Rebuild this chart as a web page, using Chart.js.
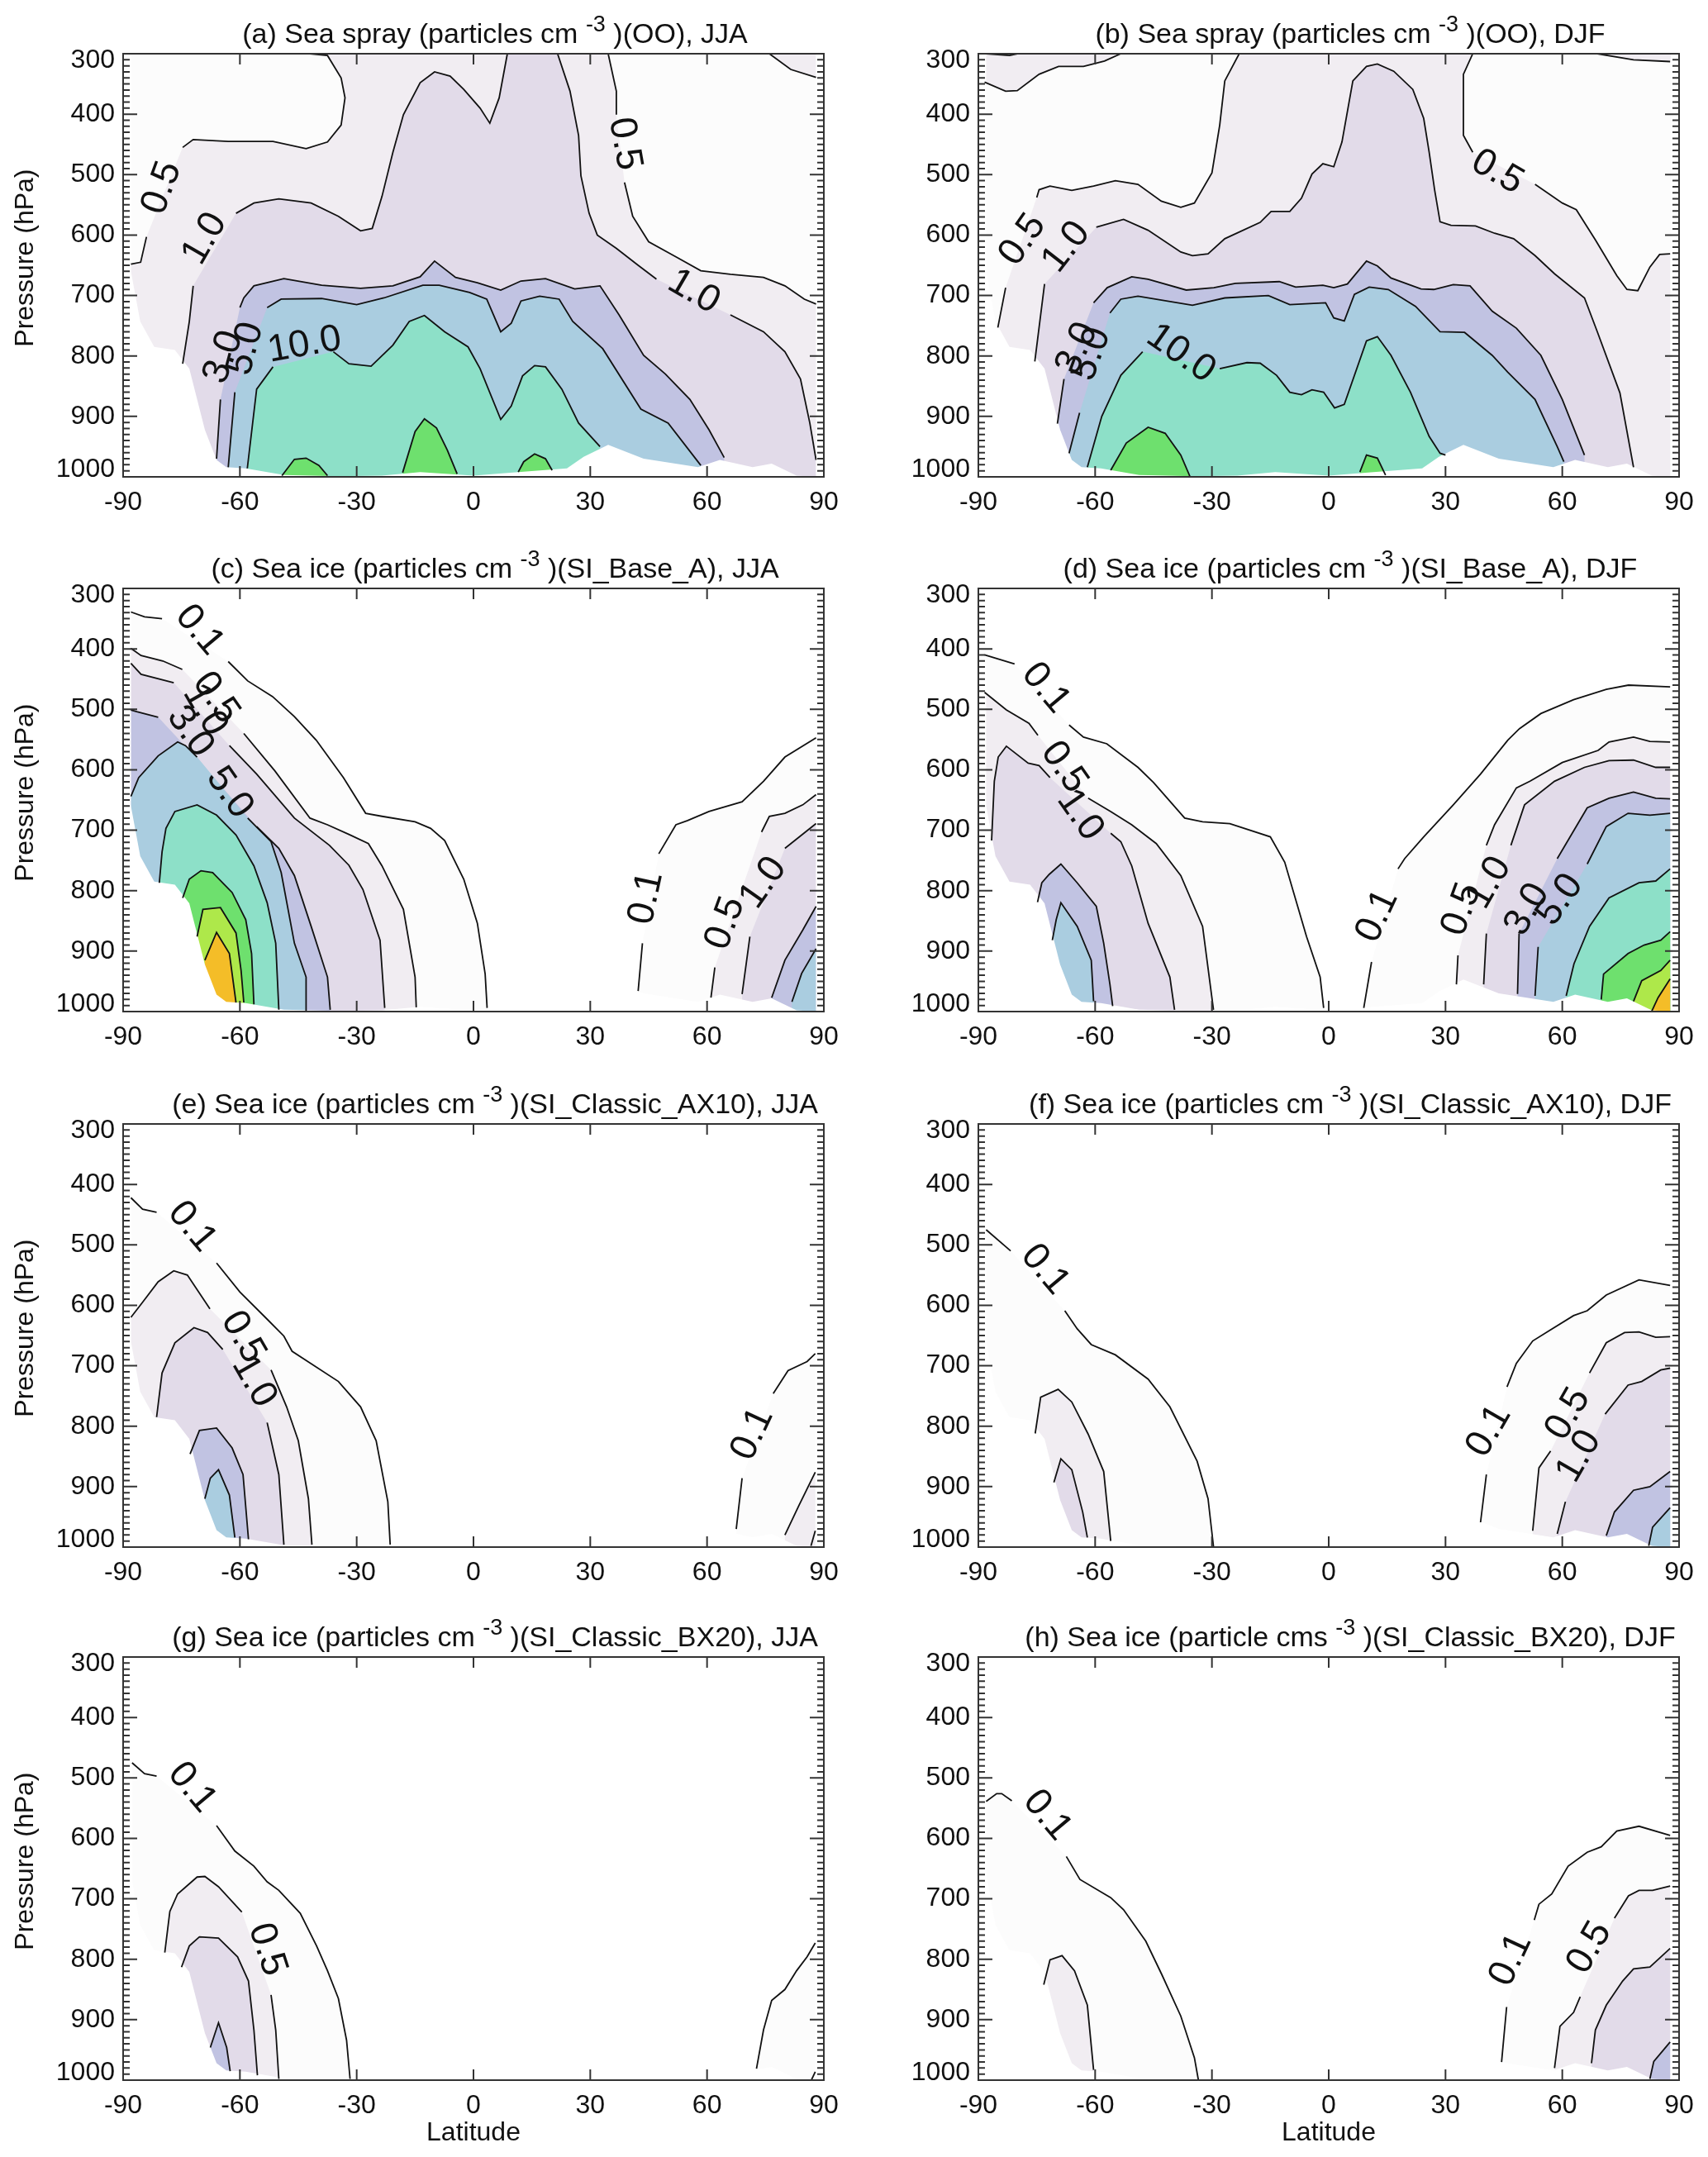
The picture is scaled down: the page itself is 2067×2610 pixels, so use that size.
<!DOCTYPE html>
<html>
<head>
<meta charset="utf-8">
<title>Sea spray and sea ice particles</title>
<script src="https://cdn.jsdelivr.net/npm/chart.js@4/dist/chart.umd.min.js"></script>
<style>
body{margin:0;background:#fff;}
#page{position:relative;width:2067px;height:2610px;overflow:hidden;background:#fff;font-family:"Liberation Sans",Arial,sans-serif;color:#111;}
canvas{position:absolute;}
.title{position:absolute;font-size:34px;white-space:pre;transform:translate(-50%,-50%);line-height:40px;}
.title sup{font-size:27px;line-height:0;position:relative;top:-2px;vertical-align:super;}
</style>
</head>
<body>
<div id="page"></div>
<script>
// ================= AXES =================
const latTicks = [-90,-60,-30,0,30,60,90];
const pressureTicks = [300,400,500,600,700,800,900,1000];
const titleHeads = ["(a) Sea spray (particles cm","(b) Sea spray (particles cm","(c) Sea ice (particles cm","(d) Sea ice (particles cm","(e) Sea ice (particles cm","(f) Sea ice (particles cm","(g) Sea ice (particles cm","(h) Sea ice (particle cms"];
const titleTails = [")(OO), JJA",")(OO), DJF",")(SI_Base_A), JJA",")(SI_Base_A), DJF",")(SI_Classic_AX10), JJA",")(SI_Classic_AX10), DJF",")(SI_Classic_BX20), JJA",")(SI_Classic_BX20), DJF"];

// colours of the bands: 0.1, 0.5, 1, 3, 5, 10, 30 and the two top levels
const bandColors = ["#fcfcfc","#f1edf2","#e2dbe9","#c1c3e2","#aacde0","#8de0c8","#6ee06e","#aee84a","#f4bd28"];

// everything below ground / off the model grid stays white
const terrain = [[-88,660],[-85.6,743],[-82,785],[-76.7,790],[-73,821],[-69,922],[-66,972],[-63.5,984],[-58.5,986],[-48.7,997],[-34.7,999],[-23.5,998],[-13.7,992],[0,998],[11.5,992],[24,986],[28.3,967],[34.6,947],[43.7,970],[57.7,984],[63.3,972],[71.7,984],[76.6,978],[83,998],[88,1000]];
const wholeGrid = [[-88,300],[88,300],[88,1000],[-88,1000]];

// ================= PANEL A =================
const a05L = [[-88,648],[-85.5,645],[-84,603],null,[-74.7,455],[-72,442],[-63,445],[-51.5,445],[-43,457],[-37.5,446],[-34,418],[-33,373],[-34,340],[-37.5,303],[-42,300]];
const a05R = [[34.6,300],[36.7,362],[36.7,401],null,[38.8,513],[40.9,569],[45,611],[52,636],[58.4,659],[66,665],[74.5,670],[80,684],[85,706],[88,714]];
const a05T = [[76,300],[81.5,326],[88,339]];
const a10L = [[-74.7,813],[-73,743],[-72,684],null,[-61,564],[-56.4,547],[-50,540],[-41.7,547],[-34.7,569],[-29,593],[-26,589],[-23.5,536],[-20.7,463],[-18,401],[-13.7,348],[-10,330],[-6,337],[-2.5,359],[1.7,390],[4.2,415],[6.6,373],[8.7,300]];
const a10R = [[21.6,300],[24.8,362],[27,435],[27.6,502],[29.7,564],[31.8,600],[36.7,622],[42.3,650],[47,673],null,[66,732],[74.5,760],[80,793],[84,838],[86.4,911],[88,972]];
const a30 = [[-66,970],[-65,872],null,[-60,720],[-59,704],[-56.4,684],[-48.7,672],[-39,683],[-29,688],[-20.7,684],[-13.7,669],[-10,643],[-4.6,670],[1,679],[7,691],[12.2,676],[18.5,672],[26,689],[32.5,684],[37.4,732],[43.7,799],[49.3,830],[55.6,872],[60.5,922],[64.4,968]];
const a50 = [[-63,984],[-61.3,860],null,[-53,720],[-49.4,706],[-39,705],[-30,715],[-23,704],[-13,683],[-8.8,683],[-1,695],[3.4,706],[7,760],[9.7,746],[12.2,709],[17,701],[22,706],[25.5,743],[33.2,788],[43,888],[50,911],[58.4,981]];
const a100 = [[-58.1,986],[-55.7,855],[-51.5,818],null,[-36,793],[-32,813],[-26.3,817],[-20.7,782],[-16.5,743],[-12.6,733],[-7.4,760],[-1.4,785],[1.7,821],[7,905],[9.7,883],[12.6,833],[15.7,816],[18.5,818],[22.7,855],[27,911],[32.5,950]];
const a300A = [[-49.2,998],[-46,971],[-43,969],[-39.7,981],[-37.5,998]];
const a300B = [[-18.2,993],[-15,925],[-12.6,904],[-9.5,919],[-6.7,956],[-4.2,995]];
const a300C = [[11.5,992],[12.9,975],[15.7,962],[18.5,970],[20.2,989]];
const linesA = [a05L,a05R,a05T,a10L,a10R,a30,a50,a100,a300A,a300B,a300C];
const fillsA = [[0,"open",wholeGrid],[1,"down",a05L,a05R],[1,"open",a05T,[[88,300]]],[2,"down",a10L,a10R],[3,"down",a30],[4,"down",a50],[5,"down",a100],[6,"down",a300A],[6,"down",a300B],[6,"down",a300C]];
const labelsA = [["0.5",-80,522],["1.0",-69,606],["3.0",-64.2,802],["5.0",-58.5,788],["10.0",-43.4,782],["0.5",38.8,449],["1.0",56.6,694]];
const anglesA = [-70,-60,-70,-75,-10,80,30];

// ================= PANEL B =================
const b05S = [[-88,300],[-82,303],[-80,300]];
const b05T = [[-88.4,347],[-83,362],[-80,361],[-74.4,334],[-69.4,321],[-63,321],[-57.6,312],[-53.4,300]];
const b05U = [[69,300],[78.3,310],[87.7,313]];
const b05L = [[-85,753],[-83,687],null,[-75,538],[-74.4,525],[-71.6,519],[-66,526],[-60.4,519],[-54.8,510],[-49,516],[-43,544],[-38,554],[-34.5,547],[-30,497],[-28,418],[-26.7,345],[-23,300]];
const b05R = [[37,300],[34.6,334],[34.6,435],[37,463],null,[53,516],[60,547],[63.6,558],[68.5,608],[74,667],[76.6,690],[79.4,692],[82.5,653],[85,632],[87.7,631]];
const b10 = [[-75.5,809],[-73,681],null,[-59.7,587],[-52.7,574],[-46.4,592],[-38,628],[-35,634],[-31,631],[-26.7,606],[-17.6,579],[-14.8,561],[-10,561],[-7,539],[-4.3,499],[-1.5,482],[1.3,487],[3.4,446],[6.2,345],[9.7,321],[12.5,317],[16.7,329],[21.6,359],[24.4,407],[25.8,463],[27.2,525],[28.6,578],[31.4,584],[37.7,585],[42.6,597],[47.5,606],[53,634],[58,664],[65.7,704],[69,760],[74.8,861],[78.3,984]];
const b30 = [[-69.7,912],[-68,838],null,[-60.4,712],[-56.9,687],[-50.6,669],[-46.4,673],[-36.6,691],[-29.5,687],[-24,680],[-12.7,677],[-8.5,686],[-1.5,683],[1.3,687],[4.8,681],[9.7,643],[12.5,651],[16,671],[23.7,689],[27,690],[32,682],[36.3,684],[42,726],[48.2,754],[54.5,799],[60,872],[65.7,964]];
const b50 = [[-66.7,961],[-64,894],null,[-56.2,729],[-53.4,706],[-49,701],[-35,716],[-26.7,704],[-15.5,700],[-10,715],[-0.8,712],[1.3,737],[4,742],[6.6,698],[10.4,686],[15.3,690],[22.3,718],[28.6,760],[34.9,761],[42,799],[46,827],[53,872],[58.7,950],[60.4,975]];
const b100 = [[-62,984],[-58.3,900],[-53.4,832],[-47.8,793],null,[-28,821],[-21,811],[-17.6,812],[-13.4,832],[-10,860],[-7,864],[-4.3,856],[-1.3,860],[1.5,886],[4,880],[9.7,775],[12.5,768],[16,799],[21,860],[25.8,933],[28.6,961],[30,964]];
const b300A = [[-56,989],[-52,944],[-46.4,918],[-42,928],[-38,964],[-35.6,1000]];
const b300B = [[8,992],[9.7,964],[12.5,969],[14.6,997]];
const linesB = [b05S,b05T,b05U,b05L,b05R,b10,b30,b50,b100,b300A,b300B];
const fillsB = [[0,"open",wholeGrid],[1,"open",b05T,[[-88.4,300]]],[1,"open",b05U,[[88,300]]],[1,"down",b05L,b05R],[2,"down",b10],[3,"down",b30],[4,"down",b50],[5,"down",b100],[6,"down",b300A],[6,"down",b300B]];
const labelsB = [["0.5",-78.6,608],["1.0",-67.4,620],["3.0",-64.6,788],["5.0",-61,797],["10.0",-38,796],["0.5",43.3,496]];
const anglesB = [-55,-52,-65,-70,35,30];

// ================= PANEL C =================
const c01L = [[-88,339],[-84.5,347],[-80,350],null,[-63,421],[-58,453],[-51.6,479],[-46,512],[-40.4,551],[-33.4,613],[-27.7,672],[-23.5,677],[-15,686],[-11,697],[-7.4,717],[-2.5,781],[1,854],[3,938],[3.5,994]];
const c01R = [[42.3,966],[43.4,887],null,[47.6,739],[52,691],[55,684],[60.5,669],[69,653],[74.5,619],[80,579],[88,547]];
const c05L = [[-88,399],[-85.4,411],[-79.8,420],[-74.8,434],null,[-59,540],[-51,602],[-42,680],[-37.5,691],[-32,707],[-27,722],[-23.5,759],[-18,831],[-15,943],[-14.7,993]];
const c05R = [[61,977],[62,927],null,[74,703],[76,677],[80,672],[84.6,658],[88,641]];
const c10L = [[-88,424],[-85.4,442],[-77,456],null,[-62.7,560],[-55.7,607],[-46,680],[-37,725],[-32,758],[-28.4,798],[-24,882],[-22.8,994]];
const c10R = [[69,971],[71,876],null,[80,730],[88,689]];
const c30L = [[-88,501],[-86.5,504],[-81,513],null,[-69,596],null,[-55.7,694],[-50,730],[-46,775],[-41.7,859],[-37.5,943],[-36.8,997]];
const c30R = [[76.6,977],[80,915],[84.6,865],[88,826]];
const c50 = [[-88,644],[-86,613],[-81,577],[-76,554],[-74,560],[-71,579],null,[-58,680],[-52,719],[-49.4,770],[-46,887],[-43,943],[-43,999]];
const c50R = [[81.8,984],[84.3,937],[88,896]];
const c100 = [[-80.7,787],[-80,736],[-79,697],[-76.7,669],[-71,658],[-66,675],[-61,708],[-56.4,759],[-53,820],[-50.8,887],[-50,997]];
const c300 = [[-74.7,812],[-73,781],[-70,767],[-67,770],[-62,803],[-58.5,848],[-57,904],[-56.4,988]];
const c500 = [[-71,876],[-69.5,831],[-65,828],[-61,870],[-59.7,932],[-59,985]];
const c700 = [[-69,915],[-66,869],[-62.7,904],[-61,985]];
const linesC = [c01L,c01R,c05L,c05R,c10L,c10R,c30L,c30R,c50,c50R,c100,c300,c500,c700];
const fillsC = [[0,"down",c01L],[0,"down",c01R],[1,"down",c05L],[1,"down",c05R],[2,"down",c10L],[2,"down",c10R],[3,"down",c30L],[3,"down",c30R],[4,"down",c50],[4,"down",c50R],[5,"down",c100],[6,"down",c300],[7,"down",c500],[8,"down",c700]];
const labelsC = [["0.1",-70.4,369],["0.5",-66.2,481],["1.0",-69,501],["3.0",-72.8,537],["5.0",-62.7,638],["0.1",44.4,812],["0.5",64.7,854],["1.0",74.5,787]];
const anglesC = [50,55,60,55,55,-78,-70,-55];

// ================= PANEL D =================
const d01L = [[-88.4,410],[-80.7,425],null,[-66.7,526],[-63,546],[-57,557],[-49,596],[-45,621],[-37,680],[-32.4,686],[-25.4,689],[-15,711],[-11.3,753],[-5.7,876],[-2.2,943],[-1.3,994]];
const d01R = [[9,994],[11,918],null,[17.8,764],[19.5,747],[24.4,711],[32,658],[39,607],[46,551],[49,532],[54.5,507],[62.9,484],[71.3,467],[77,460],[87.7,463]];
const d05L = [[-88.4,472],[-82.8,501],[-77,523],[-74.7,543],null,[-61.8,647],[-56,669],[-50.6,691],[-44.3,722],[-38,775],[-32.4,859],[-29.6,997]];
const d05R = [[32.8,955],[33.2,907],null,[40.5,725],[42.6,691],[48.2,630],[51.7,619],[60,588],[69.2,568],[72,554],[78.3,546],[82.5,553],[87.7,554]];
const d10L = [[-86.6,717],[-85.9,619],[-84.9,579],[-82.8,561],[-77.2,589],[-74.4,593],[-71.6,613],null,[-56,705],[-53.4,719],[-50.6,759],[-46.4,854],[-40.8,943],[-39.6,997]];
const d10R = [[39.8,955],[40.5,871],null,[46.8,725],[50.3,658],[58,619],[65.7,596],[72,585],[78.3,584],[84,596],[87.7,596]];
const d30L = [[-74.8,819],[-73.7,787],[-71.8,773],[-68.8,756],[-64.6,787],[-59.7,826],[-57.8,887],[-56.2,955],[-55.5,991]];
const d30R = [[48.5,971],[48.9,871],null,[58.7,747],[66.4,663],[72,647],[78.3,637],[84,647],[87.7,648]];
const d50L = [[-71,882],[-70,848],[-68.8,820],[-64.6,859],[-61,915],[-60.4,983]];
const d50R = [[53,974],[53.8,893],null,[66.4,756],[71.3,694],[76.9,672],[82.5,675],[87.7,672]];
const d100 = [[61,974],[63,921],[67,859],[72,812],[79.7,787],[84,784],[87.7,764]];
const d300 = [[70,980],[70.6,938],[76.9,904],[81,890],[85.3,882],[87.7,868]];
const d500 = [[78.3,983],[80.4,949],[85.3,932],[87.7,915]];
const d700 = [[83,999],[84.6,977],[87.7,946]];
const linesD = [d01L,d01R,d05L,d05R,d10L,d10R,d30L,d30R,d50L,d50R,d100,d300,d500,d700];
const fillsD = [[0,"down",d01L],[0,"down",d01R],[1,"down",d05L],[1,"down",d05R],[2,"down",d10L],[2,"down",d10R],[3,"down",d30L],[3,"down",d30R],[4,"down",d50L],[4,"down",d50R],[5,"down",d100],[6,"down",d300],[7,"down",d500],[8,"down",d700]];
const labelsD = [["0.1",-72.7,465],["0.5",-68,596],["1.0",-63.9,675],["0.1",12.5,842],["0.5",34.2,831],["1.0",41.2,787],["3.0",51,831],["5.0",59.4,815]];
const anglesD = [50,55,55,-65,-70,-60,-60,-55];

// ================= PANEL E =================
const e01L = [[-88,422],[-85,441],[-81.4,446],null,[-66,530],[-60,578],[-53,623],[-48.7,651],[-46.6,676],[-34.7,726],[-29,768],[-25,824],[-22,925],[-21.4,996]];
const e01R = [[67.5,970],[69,886],null,[77,746],[80.8,708],[85.7,693],[87.8,680]];
const e05L = [[-88,620],[-85,595],[-81,561],[-77,543],[-73.5,550],[-67.7,606],null,[-52,707],[-48,768],[-45,824],[-42.4,920],[-41.5,996]];
const e05R = [[80,980],[83.6,931],[87.8,876]];
const e10L = [[-81.4,785],[-80,712],[-76.7,662],[-71.8,637],[-68.3,645],[-64.4,673],null,[-53,794],[-50,880],[-48.7,996]];
const e10R = [[86.7,998],[87.8,973]];
const e30 = [[-72.8,846],[-70.4,807],[-66,803],[-62,836],[-59.2,880],[-57.8,987]];
const e50 = [[-69,920],[-67.6,886],[-65.5,872],[-62.7,914],[-61.3,984]];
const linesE = [e01L,e01R,e05L,e05R,e10L,e10R,e30,e50];
const fillsE = [[0,"down",e01L],[0,"down",e01R],[1,"down",e05L],[1,"down",e05R],[2,"down",e10L],[3,"down",e30],[4,"down",e50]];
const labelsE = [["0.1",-72.3,470],["0.5",-59.2,653],["1.0",-56.4,726],["0.1",71.7,813]];
const anglesE = [50,60,60,-65];

// ================= PANEL F =================
const f01L = [[-88,475],[-81.7,510],null,[-67.8,609],[-64.6,639],[-61,665],[-54.8,682],[-46.4,722],[-40.8,768],[-33.8,858],[-31,920],[-29.6,999]];
const f01R = [[39,959],[40.5,880],null,[45.8,735],[48.2,696],[52.4,659],[56.6,642],[62.9,617],[66.4,609],[71.3,583],[79.7,558],[87.7,567]];
const f05L = [[-75.4,812],[-74,752],[-69.5,739],[-66,760],[-61.8,813],[-57.8,875],[-56,990]];
const f05R = [[52.4,973],[54,869],[57,841],null,[67,712],[71.3,662],[76,645],[79.7,644],[84,653],[87.7,652]];
const f10L = [[-70.6,893],[-68.8,854],[-66,872],[-63.2,942],[-62,984]];
const f10R = [[58.7,978],[60.8,925],null,[71,780],[76.9,732],[80.4,726],[85.3,707],[87.7,704]];
const f30 = [[71.3,981],[73.4,942],[78.3,906],[82.5,900],[87.7,875]];
const f50 = [[82.2,998],[83.2,967],[87.7,935]];
const linesF = [f01L,f01R,f05L,f05R,f10L,f10R,f30,f50];
const fillsF = [[0,"down",f01L],[0,"down",f01R],[1,"down",f05L],[1,"down",f05R],[2,"down",f10L],[2,"down",f10R],[3,"down",f30],[4,"down",f50]];
const labelsF = [["0.1",-72.9,541],["0.1",41.2,808],["0.5",61.5,780],["1.0",64.3,850]];
const anglesF = [50,-60,-60,-60];

// ================= PANEL G =================
const g01L = [[-87.7,475],[-84.5,493],[-81.4,497],null,[-66,579],[-61.3,621],[-56.4,646],[-53,672],[-50,686],[-44.5,724],[-40.3,778],[-37.5,819],[-34.7,865],[-32.6,934],[-31.7,998]];
const g01R = [[72.7,981],[74.5,917],[76.6,868],[80,850],[83,819],[85.7,796],[87.8,773]];
const g05L = [[-79.3,789],[-78,721],[-76,692],[-71,664],[-69,663],[-65.5,680],[-59.5,722],null,[-52,859],[-50.8,917],[-50,998]];
const g05R = [[86.8,1000],[87.8,986]];
const g10 = [[-75,813],[-73,778],[-70.4,763],[-65.5,765],[-60.6,796],[-57.8,836],[-56.4,917],[-55.5,992]];
const g30 = [[-67.6,946],[-65.5,905],[-63.4,946],[-62.5,985]];
const linesG = [g01L,g01R,g05L,g05R,g10,g30];
const fillsG = [[0,"down",g01L],[0,"down",g01R],[1,"down",g05L],[2,"down",g10],[3,"down",g30]];
const labelsG = [["0.1",-72.3,516],["0.5",-53,784]];
const anglesG = [50,72];

// ================= PANEL H =================
const h01L = [[-88,539],[-85.3,526],[-84,526],[-81.4,538],null,[-67.4,630],[-63.9,668],[-56,698],[-52.7,718],[-47,770],[-42.9,825],[-38,894],[-34.5,963],[-33.5,999]];
const h01R = [[44.4,970],[45.7,879],null,[52.8,735],[54,709],[57.3,692],[61.5,646],[66.4,623],[70,614],[74,588],[79.7,580],[87.7,595]];
const h05L = [[-73.2,842],[-71.6,801],[-68.5,794],[-65.3,819],[-62,876],[-60.4,983]];
const h05R = [[58,980],[59.4,911],[62.9,888],[64.6,862],null,[73.4,732],[77,695],[79.7,686],[83.2,686],[87.7,679]];
const h10 = [[67.5,972],[68.5,917],[71.3,876],[75.5,836],[78.3,816],[82.5,813],[87.7,782]];
const h30 = [[82.5,998],[83.5,969],[87.7,937]];
const linesH = [h01L,h01R,h05L,h05R,h10,h30];
const fillsH = [[0,"down",h01L],[0,"down",h01R],[1,"down",h05L],[1,"down",h05R],[2,"down",h10],[3,"down",h30]];
const labelsH = [["0.1",-72.3,562],["0.1",46.8,801],["0.5",67,781]];
const anglesH = [50,-65,-60];

const allLines = [linesA,linesB,linesC,linesD,linesE,linesF,linesG,linesH];
const allFills = [fillsA,fillsB,fillsC,fillsD,fillsE,fillsF,fillsG,fillsH];
const allLabels = [labelsA,labelsB,labelsC,labelsD,labelsE,labelsF,labelsG,labelsH];
const allAngles = [anglesA,anglesB,anglesC,anglesD,anglesE,anglesF,anglesG,anglesH];

// ================= LAYOUT =================
const PLOT_W = 848, PLOT_H = 512, AXIS_W = 149, AXIS_H = 84, PAD_T = 50, PAD_R = 40;
const colLeft = [0,1035];
const rowTop = [65,712,1360,2005];
const FONT = '"Liberation Sans",Arial,sans-serif';
const INK = "#111";

Chart.defaults.font.family = FONT;
Chart.defaults.color = INK;

// ================= PLUGIN: frame, inward ticks, contour labels =================
const frameAndLabels = {
    id:"frameAndLabels",
    afterLayout(chart){
        // the two end labels of the pressure axis sit inside the axis range
        chart.scales.y.getLabelItems().forEach(it=>{
            if(it.label==="300") it.options.translation[1] += 8;
            if(it.label==="1000") it.options.translation[1] -= 9;
        });
    },
    afterDatasetsDraw(chart){
        const {ctx, chartArea:{left,right,top,bottom}, scales:{x,y}} = chart;
        const o = chart.options.plugins.frameAndLabels;
        ctx.save();
        ctx.fillStyle = INK;
        ctx.font = "46px "+FONT;
        ctx.textAlign = "center";
        ctx.textBaseline = "middle";
        o.labels.forEach((l,i)=>{
            ctx.save();
            ctx.translate(x.getPixelForValue(l[1]), y.getPixelForValue(l[2]));
            ctx.rotate(o.angles[i]*Math.PI/180);
            ctx.fillText(l[0],0,0);
            ctx.restore();
        });
        ctx.strokeStyle = "#333";
        ctx.lineWidth = 2;
        ctx.beginPath();
        latTicks.forEach(v=>{
            const px = x.getPixelForValue(v);
            ctx.moveTo(px,bottom); ctx.lineTo(px,bottom-13);
            ctx.moveTo(px,top); ctx.lineTo(px,top+13);
        });
        for(let p=300;p<=1000;p+=10){
            const py = y.getPixelForValue(p), len = p%100===0 ? 17 : 8;
            ctx.moveTo(left,py); ctx.lineTo(left+len,py);
            ctx.moveTo(right,py); ctx.lineTo(right-len,py);
        }
        ctx.rect(left,top,right-left,bottom-top);
        ctx.stroke();
        ctx.restore();
    }
};

// ================= DATASETS =================
const toXY = pt => pt ? {x:pt[0],y:pt[1]} : {x:null,y:null};

function fillDataset(spec){
    const [band,kind,...parts] = spec;
    const pts = parts.flat(1).filter(Boolean);
    if(kind==="down") pts.push([pts[pts.length-1][0],1000],[pts[0][0],1000]);
    return {data:pts.map(toXY), fill:"shape", backgroundColor:bandColors[band], borderWidth:0, pointRadius:0, showLine:true};
}
function lineDataset(line){
    return {data:line.map(toXY), fill:false, borderColor:INK, borderWidth:1.8, pointRadius:0, showLine:true, spanGaps:false};
}
function maskDataset(){
    const pts = [[-90,300],[-88,300],...terrain,[88,300],[90,300],[90,1000],[-90,1000]];
    return {data:pts.map(toXY), fill:"shape", backgroundColor:"#ffffff", borderWidth:0, pointRadius:0, showLine:true};
}

// ================= BUILD =================
const page = document.getElementById("page");
allLines.forEach((lines,i)=>{
    const col = i%2, row = Math.floor(i/2);
    const cv = document.createElement("canvas");
    cv.width = AXIS_W+PLOT_W+PAD_R;
    cv.height = PAD_T+PLOT_H+AXIS_H;
    cv.style.left = colLeft[col]+"px";
    cv.style.top = (rowTop[row]-PAD_T)+"px";
    page.appendChild(cv);

    const t = document.createElement("div");
    t.className = "title";
    t.style.left = (colLeft[col]+AXIS_W+PLOT_W/2+26)+"px";
    t.style.top = (rowTop[row]-25)+"px";
    t.append(titleHeads[i]+" ");
    const s = document.createElement("sup");
    s.textContent = "-3";
    t.append(s, " "+titleTails[i]);
    page.appendChild(t);

    // first dataset in the list is painted last
    const datasets = [...allFills[i].map(fillDataset), maskDataset(), ...lines.map(lineDataset)].reverse();

    new Chart(cv,{
        type:"scatter",
        data:{datasets},
        plugins:[frameAndLabels],
        options:{
            responsive:false, animation:false, devicePixelRatio:1,
            events:[],
            layout:{autoPadding:false, padding:{top:PAD_T,right:PAD_R,bottom:0,left:0}},
            plugins:{
                legend:{display:false}, tooltip:{enabled:false},
                filler:{propagate:false},
                frameAndLabels:{labels:allLabels[i], angles:allAngles[i]}
            },
            scales:{
                x:{
                    type:"linear", min:-90, max:90,
                    afterBuildTicks:s=>{ s.ticks = latTicks.map(v=>({value:v})); },
                    afterFit:s=>{ s.height = AXIS_H; },
                    grid:{display:false, drawTicks:false}, border:{display:false},
                    ticks:{font:{size:32}, padding:12, maxRotation:0, autoSkip:false, callback:v=>String(v)},
                    title:{display:row===3, text:"Latitude", font:{size:32}, padding:{top:0,bottom:1}}
                },
                y:{
                    type:"linear", reverse:true, min:300, max:1000,
                    afterBuildTicks:s=>{ s.ticks = pressureTicks.map(v=>({value:v})); },
                    afterFit:s=>{ s.width = AXIS_W; },
                    grid:{display:false, drawTicks:false}, border:{display:false},
                    ticks:{font:{size:32}, padding:10, autoSkip:false, callback:v=>String(v)},
                    title:{display:col===0, text:"  Pressure (hPa)", font:{size:32}, padding:{top:12,bottom:0}}
                }
            }
        }
    });
});
</script>
</body>
</html>
